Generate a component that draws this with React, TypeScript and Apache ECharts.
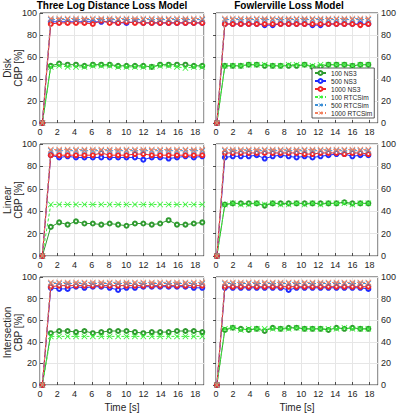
import React, { useEffect, useRef } from 'react';
import * as echarts from 'echarts';

// ---- time stamps (x positions) for each column ----
const timeLeft = [0.27, 1.25, 2.22, 3.2, 4.17, 5.15, 6.12, 7.1, 8.07, 9.05, 10.02, 11.0, 11.97, 12.95, 13.92, 14.9, 15.87, 16.85, 17.82, 18.8];
const timeRight = [0.1, 1.04, 1.97, 2.91, 3.84, 4.78, 5.71, 6.65, 7.58, 8.52, 9.45, 10.39, 11.32, 12.26, 13.19, 14.13, 15.06, 16.0, 16.93, 17.87];

const xTickLabels = ['0', '2', '4', '6', '8', '10', '12', '14', '16', '18'];
const yTickLabels = ['0', '20', '40', '60', '80', '100'];

const columnTitles = ['Three Log Distance Loss Model', 'Fowlerville Loss Model'];
const rowLabels = ['Disk', 'Linear', 'Intersection'];
const seriesNames = ['100 NS3', '500 NS3', '1000 NS3', '100 RTCSim', '500 RTCSim', '1000 RTCSim'];

// ---- Disk, Three Log Distance ----
const diskTld100Ns3 = [0, 52, 54, 53, 53, 52, 53, 53, 53, 52, 52, 52, 52, 51, 53, 53, 53, 53, 52, 52];
const diskTld500Ns3 = [0, 92, 92, 92, 92, 92, 92, 92, 92, 91, 91, 92, 91, 91, 91, 91, 91, 91, 91, 91];
const diskTld1000Ns3 = [0, 90, 91, 91, 91, 91, 90, 93, 91, 91, 92, 91, 91, 91, 91, 91, 91, 91, 91, 91];
const diskTld100Rtc = [0, 51, 52, 51, 51, 51, 52, 52, 52, 51, 51, 51, 51, 51, 52, 52, 51, 50, 51, 51];
const diskTld500Rtc = [0, 94, 94, 94, 94, 94, 94, 94, 94, 94, 94, 94, 94, 94, 94, 94, 94, 94, 94, 94];
const diskTld1000Rtc = [0, 95, 95, 95, 95, 95, 95, 95, 95, 95, 95, 95, 95, 95, 95, 95, 95, 95, 95, 95];

// ---- Disk, Fowlerville ----
const diskFow100Ns3 = [0, 52, 52, 52, 53, 53, 52, 52, 52, 52, 52, 53, 51, 51, 53, 53, 53, 52, 53, 53];
const diskFow500Ns3 = [0, 90, 90, 90, 90, 90, 89, 89, 90, 90, 90, 90, 89, 89, 90, 90, 90, 90, 90, 90];
const diskFow1000Ns3 = [0, 90, 90, 90, 90, 90, 90, 90, 90, 90, 90, 90, 90, 90, 90, 90, 90, 90, 89, 90];
const diskFow100Rtc = [0, 52, 52, 52, 53, 53, 53, 52, 52, 53, 53, 53, 52, 53, 53, 53, 53, 52, 53, 53];
const diskFow500Rtc = [0, 94, 94, 94, 94, 94, 94, 94, 94, 94, 94, 94, 94, 94, 94, 94, 94, 94, 94, 94];
const diskFow1000Rtc = [0, 95, 95, 95, 95, 95, 95, 95, 95, 95, 95, 95, 95, 95, 95, 95, 95, 95, 95, 95];

// ---- Linear, Three Log Distance ----
const linTld100Ns3 = [0, 26, 30, 28, 31, 29, 29, 28, 29, 28, 27, 29, 29, 28, 29, 32, 28, 28, 29, 30];
const linTld500Ns3 = [0, 90, 88, 89, 88, 88, 88, 88, 88, 88, 88, 88, 86, 88, 88, 87, 88, 89, 88, 89];
const linTld1000Ns3 = [0, 90, 90, 90, 90, 90, 90, 92, 90, 90, 90, 91, 91, 90, 90, 90, 90, 90, 90, 90];
const linTld100Rtc = [0, 46, 46, 46, 46, 46, 46, 46, 46, 46, 46, 46, 46, 46, 46, 46, 46, 46, 46, 46];
const linTld500Rtc = [0, 94, 94, 94, 94, 94, 94, 94, 94, 94, 94, 94, 94, 94, 94, 94, 94, 94, 94, 94];
const linTld1000Rtc = [0, 95, 95, 95, 95, 95, 95, 95, 95, 95, 95, 95, 95, 95, 95, 95, 95, 95, 95, 95];

// ---- Linear, Fowlerville ----
const linFow100Ns3 = [0, 46, 47, 47, 47, 47, 45, 47, 47, 47, 47, 47, 47, 47, 47, 47, 48, 47, 47, 47];
const linFow500Ns3 = [0, 88, 89, 89, 89, 90, 87, 89, 90, 89, 88, 89, 88, 89, 90, 91, 91, 89, 90, 90];
const linFow1000Ns3 = [0, 92, 92, 92, 92, 92, 92, 92, 92, 92, 92, 91, 91, 92, 92, 92, 91, 92, 92, 91];
const linFow100Rtc = [0, 46, 47, 46, 46, 47, 46, 47, 46, 46, 47, 46, 47, 46, 47, 47, 47, 46, 47, 47];
const linFow500Rtc = [0, 94, 94, 94, 94, 94, 94, 94, 94, 94, 94, 94, 94, 94, 94, 94, 94, 94, 94, 94];
const linFow1000Rtc = [0, 95, 95, 95, 95, 95, 95, 95, 95, 95, 95, 95, 95, 95, 95, 95, 95, 95, 95, 95];

// ---- Intersection, Three Log Distance ----
const intTld100Ns3 = [0, 48, 50, 50, 49, 50, 48, 49, 50, 50, 50, 49, 48, 49, 49, 49, 50, 50, 50, 49];
const intTld500Ns3 = [0, 90, 89, 89, 91, 90, 91, 91, 90, 88, 90, 90, 91, 91, 91, 91, 91, 91, 90, 90];
const intTld1000Ns3 = [0, 91, 92, 92, 92, 92, 92, 92, 92, 92, 92, 92, 92, 92, 92, 92, 92, 92, 92, 92];
const intTld100Rtc = [0, 45, 45, 45, 45, 45, 45, 45, 45, 45, 45, 45, 45, 45, 45, 45, 45, 45, 45, 45];
const intTld500Rtc = [0, 94, 94, 94, 94, 94, 94, 94, 94, 94, 94, 94, 94, 94, 94, 94, 94, 94, 94, 94];
const intTld1000Rtc = [0, 95, 95, 95, 95, 95, 95, 95, 95, 95, 95, 95, 95, 95, 95, 95, 95, 95, 95, 95];

// ---- Intersection, Fowlerville ----
const intFow100Ns3 = [0, 51, 53, 52, 51, 52, 50, 53, 52, 53, 53, 52, 52, 52, 51, 53, 52, 53, 52, 52];
const intFow500Ns3 = [0, 90, 90, 90, 90, 90, 90, 90, 90, 88, 90, 90, 90, 90, 90, 90, 90, 90, 90, 89];
const intFow1000Ns3 = [0, 91, 91, 91, 91, 91, 91, 91, 91, 91, 91, 91, 91, 91, 91, 91, 91, 91, 91, 91];
const intFow100Rtc = [0, 52, 53, 51, 52, 52, 52, 52, 52, 52, 53, 52, 52, 52, 52, 52, 53, 52, 52, 52];
const intFow500Rtc = [0, 94, 94, 94, 94, 94, 94, 94, 94, 94, 94, 94, 94, 94, 94, 94, 94, 94, 94, 94];
const intFow1000Rtc = [0, 95, 95, 95, 95, 95, 95, 95, 95, 95, 95, 95, 95, 95, 95, 95, 95, 95, 95, 95];

// panels in row-major order
const panels = [
  [diskTld100Ns3, diskTld500Ns3, diskTld1000Ns3, diskTld100Rtc, diskTld500Rtc, diskTld1000Rtc],
  [diskFow100Ns3, diskFow500Ns3, diskFow1000Ns3, diskFow100Rtc, diskFow500Rtc, diskFow1000Rtc],
  [linTld100Ns3, linTld500Ns3, linTld1000Ns3, linTld100Rtc, linTld500Rtc, linTld1000Rtc],
  [linFow100Ns3, linFow500Ns3, linFow1000Ns3, linFow100Rtc, linFow500Rtc, linFow1000Rtc],
  [intTld100Ns3, intTld500Ns3, intTld1000Ns3, intTld100Rtc, intTld500Rtc, intTld1000Rtc],
  [intFow100Ns3, intFow500Ns3, intFow1000Ns3, intFow100Rtc, intFow500Rtc, intFow1000Rtc],
];

const FONT = 'Liberation Sans, Arial, Helvetica, sans-serif';
const TXT = '#262626';
const XMARK = 'path://M0,1L1,0L5,4L9,0L10,1L6,5L10,9L9,10L5,6L1,10L0,9L4,5Z';

const seriesStyles = [
  { color: '#2f9a2f', symbol: 'emptyCircle', size: 4, dash: 'solid' as any },
  { color: '#1f2cff', symbol: 'emptyCircle', size: 4, dash: 'solid' as any },
  { color: '#f22626', symbol: 'emptyCircle', size: 4, dash: 'solid' as any },
  { color: '#3cf03c', symbol: XMARK, size: 6, dash: [3, 2] as any },
  { color: '#3b8fd6', symbol: XMARK, size: 6, dash: [3, 2] as any },
  { color: '#f2805e', symbol: XMARK, size: 6, dash: [3, 2] as any },
];

const cols = [
  { left: 40, width: 164, titleX: 112 },
  { left: 216, width: 166, titleX: 289 },
];
const rows = [
  { top: 13, height: 110 },
  { top: 144, height: 112 },
  { top: 277, height: 111 },
];

function buildOption() {
  const grid: any[] = [];
  const xAxis: any[] = [];
  const yAxis: any[] = [];
  const series: any[] = [];
  const graphic: any[] = [];
  const xTickSet = new Set(xTickLabels);
  const yTickSet = new Set(yTickLabels);

  for (let r = 0; r < 3; r++) {
    for (let c = 0; c < 2; c++) {
      const idx = r * 2 + c;
      grid.push({
        left: cols[c].left,
        top: rows[r].top,
        width: cols[c].width,
        height: rows[r].height,
        show: true,
        borderColor: '#3a3a3a',
        borderWidth: 1,
        backgroundColor: 'transparent',
        containLabel: false,
      });
      xAxis.push({
        type: 'value',
        gridIndex: idx,
        min: 0,
        max: 19,
        interval: 2,
        axisLine: { show: false },
        axisTick: { show: true, inside: true, length: 3, lineStyle: { color: TXT, width: 0.8 } },
        splitLine: { show: true, lineStyle: { color: '#e6e6e6', width: 1 } },
        axisLabel: {
          fontSize: 9,
          color: TXT,
          fontFamily: FONT,
          margin: 4,
          showMaxLabel: false,
          formatter: (v: number) => (xTickSet.has(String(v)) ? String(v) : ''),
        },
        name: r === 2 ? 'Time [s]' : '',
        nameLocation: 'middle',
        nameGap: 17,
        nameTextStyle: { fontSize: 10, color: TXT, fontFamily: FONT },
      });
      yAxis.push({
        type: 'value',
        gridIndex: idx,
        min: 0,
        max: 100,
        interval: 20,
        position: c === 0 ? 'left' : 'right',
        axisLine: { show: false },
        axisTick: { show: true, inside: true, length: 3, lineStyle: { color: TXT, width: 0.8 } },
        splitLine: { show: true, lineStyle: { color: '#e6e6e6', width: 1 } },
        axisLabel: {
          fontSize: 9,
          color: TXT,
          fontFamily: FONT,
          margin: 3,
          formatter: (v: number) => (yTickSet.has(String(v)) ? String(v) : ''),
        },
      });
      const times = c === 0 ? timeLeft : timeRight;
      panels[idx].forEach((vals, s) => {
        const st = seriesStyles[s];
        series.push({
          type: 'line',
          name: seriesNames[s],
          xAxisIndex: idx,
          yAxisIndex: idx,
          data: vals.map((v, i) => [times[i], v]),
          symbol: st.symbol,
          symbolSize: st.size,
          showSymbol: true,
          color: st.color,
          lineStyle: { color: st.color, width: 1, type: st.dash },
          itemStyle: { color: st.color, borderColor: st.color, borderWidth: s < 3 ? 0.8 : 0 },
          emphasis: { disabled: true },
          z: 2 + s,
        });
      });
    }
  }

  columnTitles.forEach((t, c) => {
    graphic.push({
      type: 'text',
      x: cols[c].titleX,
      y: 0,
      style: {
        text: t,
        textAlign: 'center',
        textVerticalAlign: 'top',
        fontSize: 10,
        fontWeight: 'bold',
        fontFamily: FONT,
        fill: '#000',
      },
    });
  });

  rowLabels.forEach((lab, r) => {
    graphic.push({
      type: 'text',
      x: 13,
      y: rows[r].top + rows[r].height / 2,
      rotation: Math.PI / 2,
      style: {
        text: lab + '\nCBP [%]',
        textAlign: 'center',
        textVerticalAlign: 'middle',
        fontSize: 10,
        lineHeight: 11,
        fontFamily: FONT,
        fill: TXT,
      },
    });
  });

  return {
    animation: false,
    backgroundColor: '#ffffff',
    grid,
    xAxis,
    yAxis,
    series,
    graphic,
    legend: {
      data: seriesNames.map((n, s) => ({
        name: n,
        itemStyle: { borderWidth: s < 3 ? 0.8 : 0 },
      })),
      orient: 'vertical',
      left: 312,
      top: 68,
      itemWidth: 11,
      itemHeight: 5,
      itemGap: 0,
      padding: [1, 2, 1, 2],
      backgroundColor: '#ffffff',
      borderColor: '#333333',
      borderWidth: 0.8,
      borderRadius: 0,
      selectedMode: false,
      textStyle: { fontSize: 6.6, lineHeight: 8, color: TXT, fontFamily: FONT },
    },
  };
}

export default function App() {
  const ref = useRef<HTMLDivElement>(null);
  useEffect(() => {
    if (!ref.current) return;
    const chart = echarts.init(ref.current, undefined, { renderer: 'svg' });
    chart.setOption(buildOption() as any);
    return () => chart.dispose();
  }, []);
  return (
    <div
      ref={ref}
      style={{ position: 'fixed', left: 0, top: 0, width: 399, height: 413, background: '#fff' }}
    />
  );
}
